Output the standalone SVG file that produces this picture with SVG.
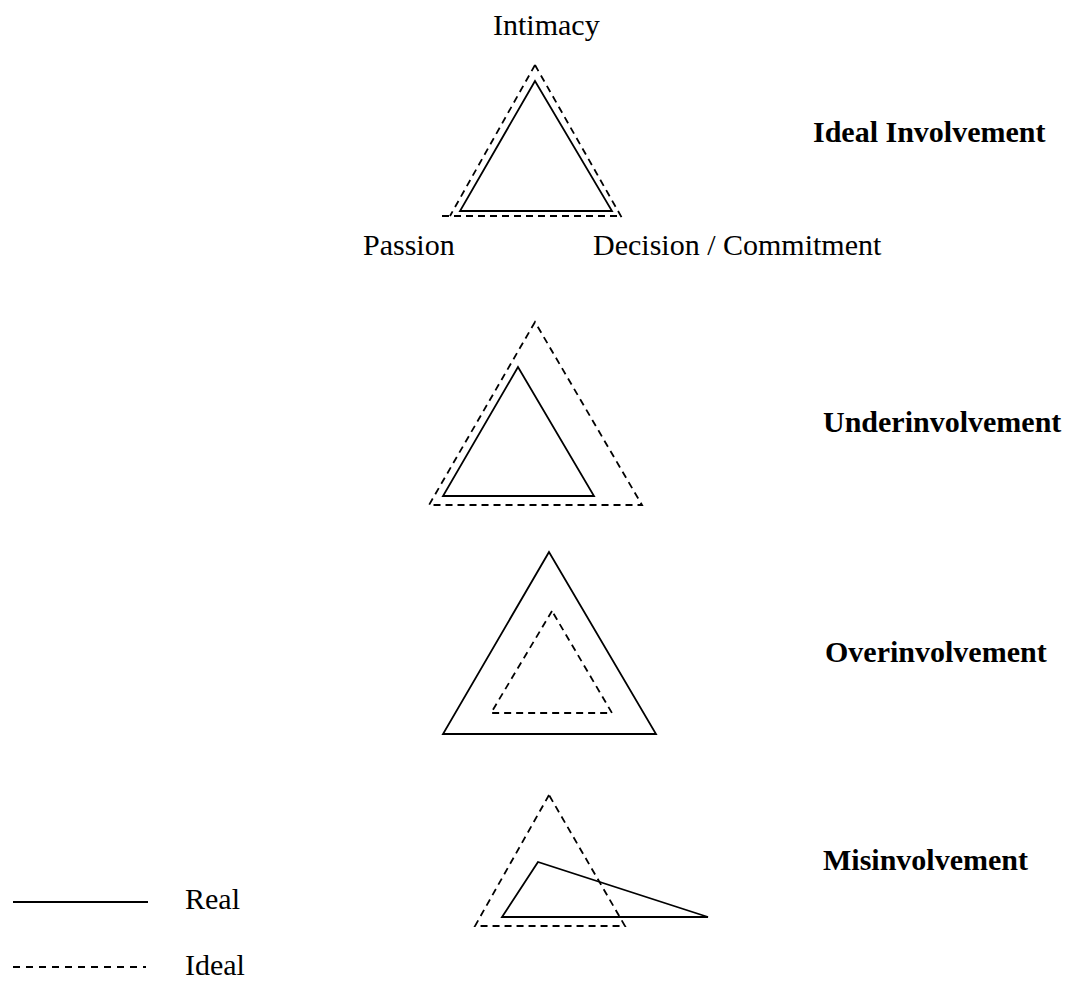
<svg xmlns="http://www.w3.org/2000/svg" width="1075" height="983" viewBox="0 0 1075 983">
  <style>
    .real { fill: none; stroke: #000; stroke-width: 1.8; stroke-linejoin: miter; }
    .ideal { fill: none; stroke: #000; stroke-width: 1.8; stroke-dasharray: 7 5; }
    .lbl { font-family: "Liberation Serif", "Times New Roman", serif; font-size: 30px; fill: #000; }
    .ttl { font-family: "Liberation Serif", "Times New Roman", serif; font-size: 30px; font-weight: bold; fill: #000; }
  </style>
  <rect width="1075" height="983" fill="#fff"/>

  <!-- Ideal involvement: real and ideal nearly coincide -->
  <g id="ideal-involvement">
    <polygon class="real" points="535,81 460,211 612,211"/>
    <line class="ideal" x1="535" y1="65" x2="450" y2="216"/>
    <line class="ideal" x1="535" y1="65" x2="622" y2="218"/>
    <line class="ideal" x1="442" y1="216" x2="622" y2="216"/>
    <text class="lbl" x="493" y="35">Intimacy</text>
    <text class="lbl" x="363" y="255">Passion</text>
    <text class="lbl" x="593" y="255">Decision / Commitment</text>
    <text class="ttl" x="813" y="142">Ideal Involvement</text>
  </g>

  <!-- Underinvolvement: real inside ideal -->
  <g id="underinvolvement">
    <polygon class="ideal" points="535,322 429,505 642,505"/>
    <polygon class="real" points="518,367 443,496 594,496"/>
    <text class="ttl" x="823" y="432">Underinvolvement</text>
  </g>

  <!-- Overinvolvement: ideal inside real -->
  <g id="overinvolvement">
    <polygon class="real" points="549,552 443,734 656,734"/>
    <polygon class="ideal" points="552,611 491,713 612,713"/>
    <text class="ttl" x="825" y="662">Overinvolvement</text>
  </g>

  <!-- Misinvolvement: shapes disagree -->
  <g id="misinvolvement">
    <polygon class="ideal" points="549,795 475,926 625,926"/>
    <polygon class="real" points="538,862 502,917 708,917"/>
    <text class="ttl" x="823" y="870">Misinvolvement</text>
  </g>

  <!-- Key -->
  <g id="legend">
    <line class="real" x1="13" y1="902" x2="148" y2="902"/>
    <text class="lbl" x="185" y="909">Real</text>
    <line x1="13" y1="967" x2="146" y2="967" stroke="#000" stroke-width="1.8" stroke-dasharray="7 6"/>
    <text class="lbl" x="185" y="975">Ideal</text>
  </g>
</svg>
